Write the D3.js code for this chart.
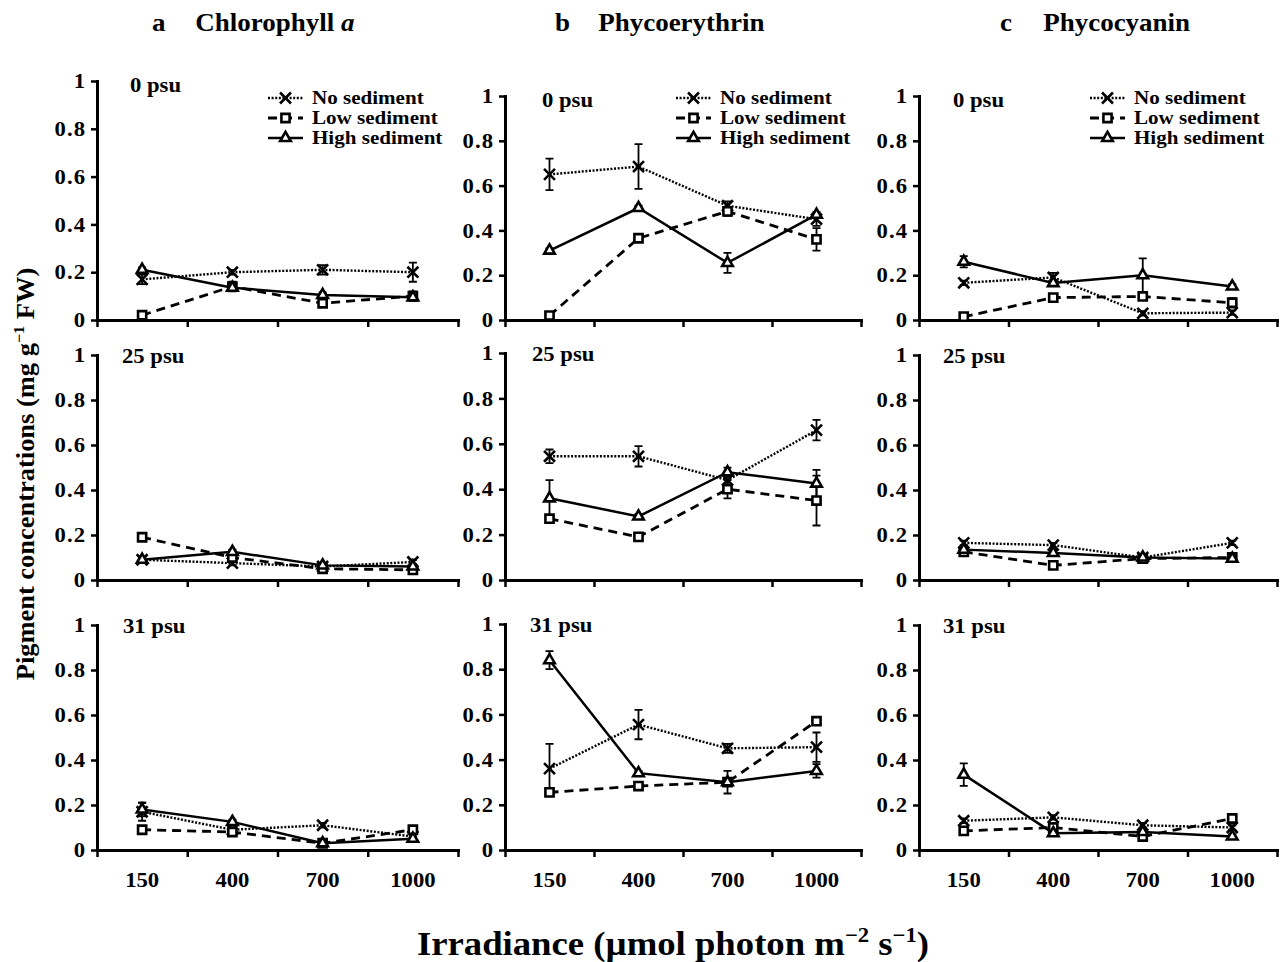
<!DOCTYPE html>
<html>
<head>
<meta charset="utf-8">
<script src="https://cdn.jsdelivr.net/npm/d3@7"></script>
<style>
  body { margin: 0; background: #fff; }
  svg text { font-family: 'Liberation Serif', 'Times New Roman', serif; font-weight: bold; fill: #000; }
</style>
</head>
<body>
<div id="chart"></div>
<script>
'use strict';

const irradiance = ['150', '400', '700', '1000'];
const salinities = ['0 psu', '25 psu', '31 psu'];
const seriesNames = ['No sediment', 'Low sediment', 'High sediment'];
const panelLetters = ['a', 'b', 'c'];
const pigmentNames = ['Chlorophyll', 'Phycoerythrin', 'Phycocyanin'];
const yTicks = [0, 0.2, 0.4, 0.6, 0.8, 1];

// mean values, one row per salinity (0, 25, 31 psu), columns = irradiance
const chlaNo = [[0.17, 0.20, 0.21, 0.20], [0.09, 0.075, 0.06, 0.08], [0.17, 0.09, 0.11, 0.06]];
const chlaLow = [[0.02, 0.14, 0.07, 0.10], [0.19, 0.10, 0.05, 0.045], [0.09, 0.08, 0.03, 0.09]];
const chlaHigh = [[0.21, 0.135, 0.105, 0.095], [0.09, 0.125, 0.065, 0.06], [0.18, 0.125, 0.03, 0.05]];
const chlaNoErr = [[0.02, 0.01, 0.02, 0.04], [0.01, 0.01, 0.01, 0.01], [0.04, 0.01, 0.01, 0.01]];
const chlaLowErr = [[0.01, 0.02, 0.01, 0.02], [0.01, 0.01, 0.01, 0.01], [0.01, 0.01, 0.01, 0.01]];
const chlaHighErr = [[0.01, 0.01, 0.01, 0.01], [0.01, 0.01, 0.01, 0.01], [0.03, 0.01, 0.01, 0.01]];

const peNo = [[0.65, 0.685, 0.51, 0.45], [0.545, 0.545, 0.44, 0.66], [0.36, 0.555, 0.45, 0.455]];
const peLow = [[0.02, 0.365, 0.485, 0.36], [0.27, 0.19, 0.40, 0.35], [0.255, 0.283, 0.30, 0.57]];
const peHigh = [[0.31, 0.50, 0.255, 0.47], [0.36, 0.28, 0.475, 0.425], [0.84, 0.34, 0.30, 0.35]];
const peNoErr = [[0.07, 0.10, 0.02, 0.03], [0.03, 0.045, 0.02, 0.045], [0.11, 0.065, 0.02, 0.065]];
const peLowErr = [[0.01, 0.01, 0.02, 0.05], [0.01, 0.01, 0.04, 0.11], [0.01, 0.01, 0.01, 0.01]];
const peHighErr = [[0.01, 0.01, 0.045, 0.01], [0.08, 0.01, 0.02, 0.06], [0.04, 0.01, 0.05, 0.03]];

const pcNo = [[0.166, 0.19, 0.03, 0.033], [0.165, 0.155, 0.10, 0.165], [0.13, 0.145, 0.11, 0.10]];
const pcLow = [[0.015, 0.10, 0.105, 0.077], [0.125, 0.065, 0.095, 0.10], [0.085, 0.10, 0.06, 0.14]];
const pcHigh = [[0.26, 0.165, 0.20, 0.15], [0.135, 0.12, 0.10, 0.095], [0.335, 0.075, 0.08, 0.06]];
const pcNoErr = [[0.01, 0.02, 0.01, 0.01], [0.01, 0.01, 0.01, 0.01], [0.01, 0.01, 0.01, 0.01]];
const pcLowErr = [[0.01, 0.01, 0.01, 0.02], [0.01, 0.01, 0.01, 0.01], [0.01, 0.01, 0.01, 0.01]];
const pcHighErr = [[0.025, 0.01, 0.075, 0.01], [0.01, 0.01, 0.01, 0.01], [0.05, 0.01, 0.01, 0.01]];

const pigments = [
  { means: [chlaNo, chlaLow, chlaHigh], errs: [chlaNoErr, chlaLowErr, chlaHighErr] },
  { means: [peNo, peLow, peHigh], errs: [peNoErr, peLowErr, peHighErr] },
  { means: [pcNo, pcLow, pcHigh], errs: [pcNoErr, pcLowErr, pcHighErr] },
];

// layout
const W = 1282;
const H = 962;
const sx = 1.08; // horizontal stretch of the lettering
const colX = [[97, 458], [505, 861], [919, 1277]];
const rowBase = [320, 580, 850];
const rowTop = [[81, 96, 96], [355, 353, 355], [625, 624, 625]];
const psuDx = [[33, 37, 34], [25, 27, 24], [26, 25, 24]];
const titleX = [152, 555, 1000];
const legendY = [98, 118, 138];

const lineStyles = [
  { width: 2.4, dash: '2,1.6' },
  { width: 2.8, dash: '9,6' },
  { width: 2.5, dash: null },
];

const symbolTypes = [
  d3.symbolTimes || d3.symbolCross,
  d3.symbolSquare2 || d3.symbolSquare,
  d3.symbolTriangle2 || d3.symbolTriangle,
];
const symbolSizes = [80, 85, 80];

const svg = d3
  .select('#chart')
  .append('svg')
  .attr('width', W)
  .attr('height', H)
  .style('background', '#fff');

const marker = (g, k, cx, cy) =>
  g
    .append('path')
    .attr('d', d3.symbol().type(symbolTypes[k]).size(symbolSizes[k])())
    .attr('transform', 'translate(' + cx + ',' + cy + ')')
    .attr('fill', '#fff')
    .attr('stroke', '#000')
    .attr('stroke-width', 2.6);

const text = (g, x, y, str, size, anchor) =>
  g
    .append('text')
    .attr('transform', 'translate(' + x + ',' + y + ') scale(' + sx + ',1)')
    .attr('text-anchor', anchor || 'start')
    .style('font-size', size + 'px')
    .text(str);

const fmt = (d) => (d === 0 || d === 1 ? String(d) : d.toFixed(1));

pigments.forEach((pig, c) => {
  // column title
  const t = svg
    .append('text')
    .attr('transform', 'translate(' + titleX[c] + ',31) scale(' + sx + ',1)')
    .style('font-size', '25px');
  t.append('tspan').text(panelLetters[c]);
  t.append('tspan').attr('x', 40).text(pigmentNames[c] + (c === 0 ? ' ' : ''));
  if (c === 0) t.append('tspan').style('font-style', 'italic').text('a');

  salinities.forEach((sal, r) => {
    const x = d3.scaleBand().domain(irradiance).range(colX[c]);
    const y = d3.scaleLinear().domain([0, 1]).range([rowBase[r], rowTop[r][c]]);
    const xb = d3.scaleLinear().domain([0, irradiance.length]).range(colX[c]);
    const cx = (i) => x(irradiance[i]) + x.bandwidth() / 2;
    const g = svg.append('g');

    // axes
    const xAxis = g
      .append('g')
      .attr('transform', 'translate(0,' + rowBase[r] + ')')
      .call(
        d3
          .axisBottom(xb)
          .tickValues(d3.range(irradiance.length + 1))
          .tickFormat('')
          .tickSize(7)
          .tickSizeOuter(0)
      );
    xAxis.select('.domain').attr('stroke-width', 3).attr('stroke-linecap', 'square');
    xAxis.selectAll('.tick line').attr('stroke-width', 2.5);

    if (r === salinities.length - 1) {
      const xl = g
        .append('g')
        .attr('transform', 'translate(0,' + rowBase[r] + ')')
        .call(d3.axisBottom(x).tickSize(0).tickPadding(22));
      xl.select('.domain').remove();
      xl.selectAll('text')
        .style('font-size', '21px')
        .attr('transform', 'scale(' + sx + ',1)');
    }

    const yAxis = g
      .append('g')
      .attr('transform', 'translate(' + colX[c][0] + ',0)')
      .call(
        d3
          .axisLeft(y)
          .tickValues(yTicks)
          .tickFormat(fmt)
          .tickSize(6)
          .tickPadding(4)
          .tickSizeOuter(0)
      );
    yAxis.select('.domain').attr('stroke-width', 3).attr('stroke-linecap', 'square');
    yAxis.selectAll('.tick line').attr('stroke-width', 2.5);
    yAxis
      .selectAll('text')
      .style('font-size', '21px')
      .style('letter-spacing', '1px')
      .attr('transform', 'scale(' + sx + ',1)');

    // salinity label
    text(g, colX[c][0] + psuDx[r][c], rowTop[r][c] + (r === 0 ? 11 : 8), sal, 21);

    // series
    const line = d3
      .line()
      .x((d, i) => cx(i))
      .y((d) => y(d));

    pig.means.forEach((m, k) => {
      g.append('path')
        .attr('d', line(m[r]))
        .attr('fill', 'none')
        .attr('stroke', '#000')
        .attr('stroke-width', lineStyles[k].width)
        .attr('stroke-dasharray', lineStyles[k].dash);
    });

    pig.means.forEach((m, k) => {
      const e = pig.errs[k][r];
      m[r].forEach((v, i) => {
        const px = cx(i);
        g.append('path')
          .attr(
            'd',
            'M' + px + ',' + y(v - e[i]) + 'V' + y(v + e[i]) +
              'M' + (px - 4) + ',' + y(v - e[i]) + 'H' + (px + 4) +
              'M' + (px - 4) + ',' + y(v + e[i]) + 'H' + (px + 4)
          )
          .attr('fill', 'none')
          .attr('stroke', '#000')
          .attr('stroke-width', 1.8);
      });
    });

    pig.means.forEach((m, k) => {
      m[r].forEach((v, i) => marker(g, k, cx(i), y(v)));
    });

    // legend (top row only)
    if (r === 0) {
      const x0 = colX[c][0];
      seriesNames.forEach((name, k) => {
        const ly = legendY[k];
        g.append('line')
          .attr('x1', x0 + 171)
          .attr('x2', x0 + 206)
          .attr('y1', ly)
          .attr('y2', ly)
          .attr('stroke', '#000')
          .attr('stroke-width', lineStyles[k].width)
          .attr('stroke-dasharray', lineStyles[k].dash);
        marker(g, k, x0 + 188.5, ly);
        text(g, x0 + 215, ly + 6, name, 19.5);
      });
    }
  });
});

// y axis title
const yt = svg
  .append('text')
  .attr('transform', 'translate(34,474) rotate(-90) scale(' + sx + ',1)')
  .attr('text-anchor', 'middle')
  .style('font-size', '24.5px');
yt.append('tspan').text('Pigment concentrations (mg g');
yt.append('tspan').attr('dy', -10).style('font-size', '15px').text('\u22121');
yt.append('tspan').attr('dy', 10).text(' FW)');

// x axis title
const xt = svg
  .append('text')
  .attr('transform', 'translate(673,955) scale(' + sx + ',1)')
  .attr('text-anchor', 'middle')
  .style('font-size', '34px');
xt.append('tspan').text('Irradiance (\u00b5mol photon m');
xt.append('tspan').attr('dy', -13).style('font-size', '21px').text('\u22122');
xt.append('tspan').attr('dy', 13).text(' s');
xt.append('tspan').attr('dy', -13).style('font-size', '21px').text('\u22121');
xt.append('tspan').attr('dy', 13).text(')');
</script>
</body>
</html>
